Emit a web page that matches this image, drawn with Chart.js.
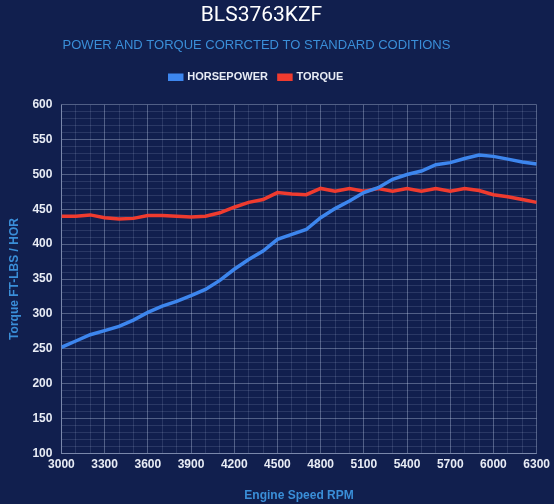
<!DOCTYPE html>
<html>
<head>
<meta charset="utf-8">
<script src="https://cdn.jsdelivr.net/npm/chart.js@4"></script>
<style>
  html, body { margin: 0; padding: 0; background: #111f4e; }
  #dyno { display: block; }
</style>
</head>
<body>
<canvas id="dyno" width="554" height="504"></canvas>
<script>
// dyno run, values read every 100 rpm
const rpm = [3000, 3100, 3200, 3300, 3400, 3500, 3600, 3700, 3800, 3900, 4000,
             4100, 4200, 4300, 4400, 4500, 4600, 4700, 4800, 4900, 5000,
             5100, 5200, 5300, 5400, 5500, 5600, 5700, 5800, 5900, 6000,
             6100, 6200, 6300];
const horsepower = [252, 261, 270, 276, 282, 291, 302, 311, 318, 326, 335,
                    348, 364, 378, 390, 407, 414, 421, 438, 451, 462,
                    474, 481, 493, 500, 505, 514, 517, 523, 528, 526,
                    522, 518, 515];
const torque = [440, 440, 442, 438, 436, 437, 441, 441, 440, 439, 440,
                445, 453, 460, 464, 474, 472, 471, 480, 476, 480,
                476, 480, 476, 480, 476, 480, 476, 480, 477, 471,
                468, 464, 460];
const yTicks = [100, 150, 200, 250, 300, 350, 400, 450, 500, 550, 600];
const xTicks = [3000, 3300, 3600, 3900, 4200, 4500, 4800, 5100, 5400, 5700, 6000, 6300];

const txt = "#e8ecf5";
const blueTxt = "#3a8ed8";

Chart.defaults.font.family = "'Liberation Sans', Arial, sans-serif";

// a bit more room under the legend
const legendGap = {
    id: "legendGap",
    beforeInit(chart) {
        const fit = chart.legend.fit;
        chart.legend.fit = function () {
            fit.bind(chart.legend)();
            this.height += 12;
        };
    },
    // headings sit a little left of the plot centre
    afterLayout(chart) {
        chart.boxes.forEach(b => {
            if (b.position === "top" && !b.axis) {
                const d = b === chart.titleBlock ? 11 : 16;
                b.left -= d;
                b.right -= d;
            }
        });
    }
};

new Chart(document.getElementById("dyno").getContext("2d"), {
    type: "line",
    data: {
        datasets: [
            {
                label: "HORSEPOWER",
                data: rpm.map((r, i) => ({ x: r, y: horsepower[i] })),
                borderColor: "#3d86ee",
                backgroundColor: "#3d86ee",
                borderWidth: 3.5,
                pointRadius: 0,
                tension: 0
            },
            {
                label: "TORQUE",
                data: rpm.map((r, i) => ({ x: r, y: torque[i] })),
                borderColor: "#ef3b2f",
                backgroundColor: "#ef3b2f",
                borderWidth: 3.5,
                pointRadius: 0,
                tension: 0
            }
        ]
    },
    plugins: [legendGap],
    options: {
        responsive: false,
        animation: false,
        layout: { padding: { left: 3, right: 12, bottom: 1 } },
        plugins: {
            title: {
                display: true,
                text: "BLS3763KZF",
                color: "#ffffff",
                font: { family: "Roboto", size: 21, weight: "normal" },
                padding: { top: 3, bottom: 6 }
            },
            subtitle: {
                display: true,
                text: "POWER AND TORQUE CORRCTED TO STANDARD CODITIONS",
                color: blueTxt,
                font: { size: 13, weight: "normal" },
                padding: { top: 3, bottom: 8 }
            },
            legend: {
                labels: {
                    color: txt,
                    boxWidth: 12,
                    boxHeight: 4,
                    padding: 11,
                    font: { size: 11, weight: "bold" }
                }
            },
            tooltip: { enabled: false }
        },
        scales: {
            x: {
                type: "linear",
                min: 3000,
                max: 6300,
                ticks: {
                    stepSize: 100,
                    autoSkip: false,
                    maxRotation: 0,
                    color: txt,
                    font: { size: 12, weight: "bold" },
                    padding: 4,
                    callback: v => xTicks.includes(v) ? String(v) : ""
                },
                grid: {
                    color: ctx => xTicks.includes(ctx.tick && ctx.tick.value) ? "rgba(200,215,240,0.35)" : "rgba(200,215,240,0.14)",
                    drawTicks: false
                },
                border: { color: "rgba(200,215,240,0.35)" },
                title: {
                    display: true,
                    text: "Engine Speed RPM",
                    color: blueTxt,
                    font: { size: 12, weight: "bold" },
                    padding: { top: 13, bottom: 0 }
                }
            },
            y: {
                min: 100,
                max: 600,
                ticks: {
                    stepSize: 10,
                    autoSkip: false,
                    color: txt,
                    font: { size: 12, weight: "bold" },
                    padding: 9,
                    callback: v => yTicks.includes(v) ? String(v) : ""
                },
                grid: {
                    color: ctx => yTicks.includes(ctx.tick && ctx.tick.value) ? "rgba(200,215,240,0.35)" : "rgba(200,215,240,0.14)",
                    drawTicks: false
                },
                border: { color: "rgba(200,215,240,0.35)" },
                title: {
                    display: true,
                    text: "Torque FT-LBS / HOR",
                    color: blueTxt,
                    font: { size: 12, weight: "bold" },
                    padding: { bottom: 2 }
                }
            }
        }
    }
});
</script>
</body>
</html>
